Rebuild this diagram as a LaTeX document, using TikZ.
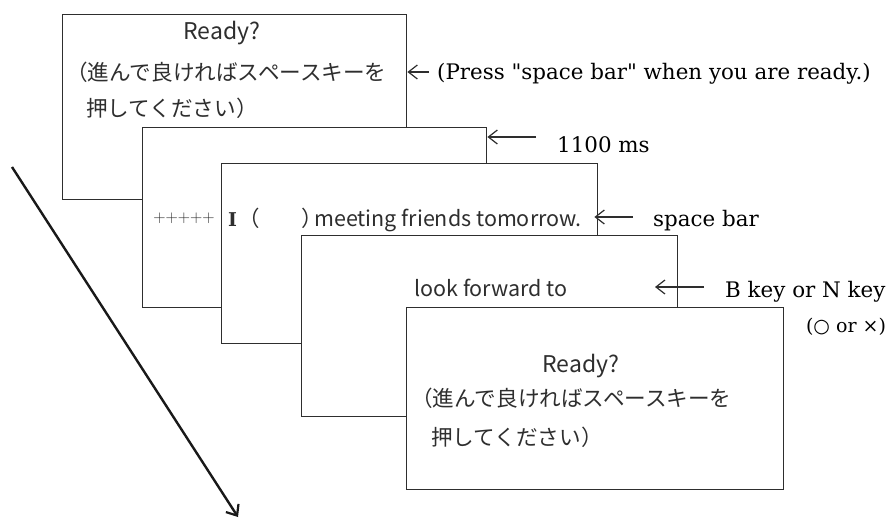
\documentclass[tikz,border=0pt]{standalone}
\usepackage{fontspec}
\newfontfamily\jp{Noto Sans CJK JP}
\newfontfamily\lbl{DejaVu Serif}[Ligatures=TeXOff]
\newfontfamily\symf{DejaVu Sans}
\usetikzlibrary{arrows.meta}
\definecolor{ink}{HTML}{2E2E2E}
\begin{document}
\begin{tikzpicture}[x=1pt,y=-1pt,
  screen/.style={draw=ink, line width=1.4pt, fill=white, rectangle, inner sep=0pt, anchor=north west},
  lab/.style={font=\lbl\fontsize{21.4}{21.4}\selectfont, inner sep=0pt, anchor=base west, text=black},
  small/.style={font=\lbl\fontsize{19}{19}\selectfont, inner sep=0pt, text=black},
  jptext/.style={font=\jp\fontsize{21.6}{21.6}\selectfont, inner sep=0pt, anchor=west, text=ink},
  sans/.style={font=\jp\fontsize{21.5}{21.5}\selectfont, inner sep=0pt, text=ink},
  ready/.style={font=\jp\fontsize{23}{23}\selectfont, inner sep=0pt, text=ink, anchor=center},
  plus/.style={font=\fontsize{17}{17}\selectfont, inner sep=0pt, text=ink},
  lblarrow/.style={draw=ink, line width=1.2pt, -{Straight Barb[length=9pt,width=14pt,line width=1.2pt]}},
  timearrow/.style={draw=black!90, line width=2.4pt, -{Straight Barb[length=9pt,width=15pt,line width=2.2pt]}}
]
\useasboundingbox (0,0) rectangle (893,518);

% screens, back to front
\node[screen, minimum width=344pt, minimum height=185pt] (s1) at (62,14) {};
\node[screen, minimum width=344pt, minimum height=180pt] (s2) at (142,127) {};
\node[screen, minimum width=376pt, minimum height=180pt] (s3) at (221,163) {};
\node[screen, minimum width=376pt, minimum height=181pt] (s4) at (301,235) {};
\node[screen, minimum width=377pt, minimum height=182pt] (s5) at (406,307) {};

% screen 1
\node[ready] (r1) at (222,33) {Ready?};
\node[jptext] (j1a) at (66,72) {（進んで良ければスペースキーを};
\node[jptext] (j1b) at (86,108) {押してください）};

% screen 2
\node[plus, anchor=center] (pl) at (184,218) {+++++};

% screen 3
\node[font=\lbl\bfseries\fontsize{19}{19}\selectfont, inner sep=0pt, anchor=base west, text=ink] (q1) at (228,227) {I};
\node[sans, anchor=base west] (q2) at (238.5,227) {（};
\node[sans, anchor=base west] (q3) at (301,227) {）};
\node[sans, anchor=base west] (q4) at (314,227) {meeting friends tomorrow.};

% screen 4
\node[sans, anchor=base west] (lf) at (414,297) {look forward to};

% screen 5
\node[ready] (r5) at (581,366) {Ready?};
\node[jptext] (j5a) at (411,398) {（進んで良ければスペースキーを};
\node[jptext] (j5b) at (431,437) {押してください）};

% labels on the right
\node[lab] (l1) at (437,80) {(Press "space bar" when you are ready.)};
\node[lab] (l2) at (557,153) {1100 ms};
\node[lab] (l3) at (653,227) {space bar};
\node[lab] (l4) at (725,298) {B key or N key};
\node[small, anchor=center] (l5) at (846,327) {({\symf ○} or ×)};

% label arrows
\coordinate (a1) at (429,72);
\coordinate (a2) at (536,137);
\coordinate (a3) at (633,217);
\coordinate (a4) at (704,287);
\coordinate (a4e) at (655,287);
\draw[lblarrow] (a1) -- (s1.east |- a1);
\draw[lblarrow] (a2) -- (s2.east |- a2);
\draw[lblarrow] (a3) -- ([xshift=-4pt]s3.east |- a3);
\draw[lblarrow] (a4) -- (a4e);

% time arrow
\coordinate (t0) at (12,167);
\coordinate (t1) at (238,517);
\draw[timearrow] (t0) -- (t1);
\end{tikzpicture}
\end{document}
